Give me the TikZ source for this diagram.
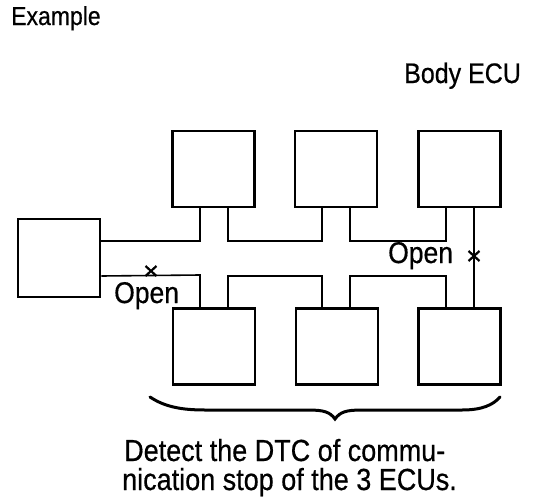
\documentclass[tikz,border=0pt]{standalone}
\usepackage{fontspec}
\usepackage{graphicx}
\setmainfont[FakeBold=0.6,BoldFont=Liberation Sans]{Liberation Sans}
\usetikzlibrary{calc}
\newcommand{\tallt}[1]{\scalebox{1}[1.13]{#1}}
\begin{document}
\begin{tikzpicture}[x=1pt,y=-1pt,
  ecu/.style={draw,line width=2.8pt,minimum width=82pt,minimum height=76pt,inner sep=0pt},
  bus/.style={line width=1.6pt},
  lbl/.style={inner sep=0pt,anchor=base west},
  xmark/.style={line width=2.2pt}]
\useasboundingbox (0,0) rectangle (560,498);
% boxes
\node[ecu,minimum width=82pt,minimum height=78pt] (L) at (59,258) {};
\node[ecu] (T1) at (213.5,169) {};
\node[ecu] (T2) at (336,169) {};
\node[ecu] (T3) at (459.5,169) {};
\node[ecu] (B1) at (214,346.5) {};
\node[ecu] (B2) at (337,346.5) {};
\node[ecu] (B3) at (459.5,346.5) {};
% bus coordinates
\coordinate (uy) at (0,241);
\coordinate (ly) at (0,276);
% upper bus
\draw[bus] (L.east |- uy) -- (200,241) -- (200,0 |- T1.south);
\draw[bus] (228,0 |- T1.south) -- (228,241) -- (322,241) -- (322,0 |- T2.south);
\draw[bus] (350,0 |- T2.south) -- (350,241) -- (446,241) -- (446,0 |- T3.south);
\draw[bus] (474,0 |- T3.south) coordinate (r1) -- (474,0 |- B3.north) coordinate (r2);
% lower bus
\draw[bus] (L.east |- ly) -- (200,275) -- (200,0 |- B1.north);
\draw[bus] (228,0 |- B1.north) -- (228,276) -- (322,276) -- (322,0 |- B2.north);
\draw[bus] (350,0 |- B2.north) -- (350,276) -- (446,276) -- (446,0 |- B3.north);
% open marks
\coordinate (x1) at (151,271);
\coordinate (x2) at (474,256);
\draw[xmark] ($(x1)+(-5.5,-5)$) -- ($(x1)+(5.5,5)$) ($(x1)+(-5.5,5)$) -- ($(x1)+(5.5,-5)$);
\draw[xmark] ($(x2)+(-5.5,-5)$) -- ($(x2)+(5.5,5)$) ($(x2)+(-5.5,5)$) -- ($(x2)+(5.5,-5)$);
% labels
\node[lbl,font=\fontsize{23}{26}\selectfont] (ex) at (11,25) {\tallt{Example}};
\node[lbl,font=\fontsize{25}{28}\selectfont] (body) at (404,83) {\tallt{Body ECU}};
\node[lbl,font=\fontsize{26.5}{28}\selectfont] (o1) at (114,303) {\tallt{Open}};
\node[lbl,font=\fontsize{26.5}{28}\selectfont] (o2) at (388,263) {\tallt{Open}};
\node[lbl,font=\fontsize{27}{30}\selectfont] (t1) at (124,461) {\tallt{Detect the DTC of commu-}};
\node[lbl,font=\fontsize{27}{30}\selectfont] (t2) at (122,490) {\tallt{nication stop of the 3 ECUs.}};
% brace
\draw[line width=3pt,line cap=round] (150,397) .. controls (165,407) and (182,410) .. (205,410)
  -- (308,410) .. controls (324,410) and (330,412) .. (335,419)
  .. controls (340,412) and (346,410) .. (362,410) -- (462,410)
  .. controls (482,410) and (493,405) .. (500,397);
\end{tikzpicture}
\end{document}
